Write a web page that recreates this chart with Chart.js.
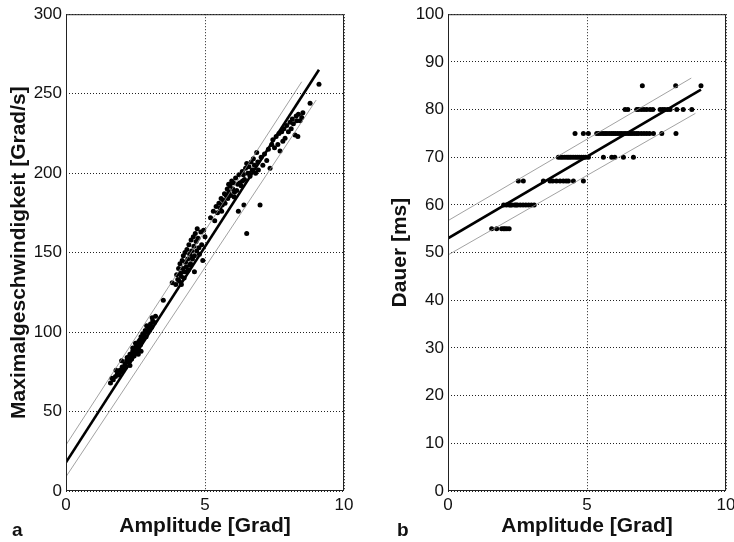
<!DOCTYPE html>
<html>
<head>
<meta charset="utf-8">
<script src="https://cdn.jsdelivr.net/npm/chart.js@4.4.1/dist/chart.umd.min.js"></script>
<style>
  html, body { margin: 0; padding: 0; background: #fff; overflow: hidden; width: 734px; height: 542px; }
  .panel { position: absolute; top: 0; }
  #panelA { left: 0; }
  #panelB { left: 367px; }
  .tag { position: absolute; font: bold 19px 'Liberation Sans', Arial, sans-serif; color: #111; line-height: 22px; }
</style>
</head>
<body>
<div class="panel" id="panelA"><canvas id="chartA" width="367" height="542"></canvas></div>
<div class="panel" id="panelB"><canvas id="chartB" width="380" height="542"></canvas></div>
<span class="tag" style="left:12px; top:519px">a</span>
<span class="tag" style="left:397px; top:519px">b</span>
<script>
'use strict';

/// DATA - panel a (amplitude vs peak velocity)
let ampA = [
  1.60, 1.65, 1.70, 1.78, 1.85, 1.90, 1.94, 2.00, 2.02, 2.08, 2.12, 2.15, 2.18, 2.22, 2.25, 2.28,
  2.30, 2.33, 2.36, 2.40, 2.42, 2.45, 2.48, 2.50, 2.52, 2.55, 2.58, 2.60, 2.62, 2.66, 2.68, 2.70,
  2.72, 2.76, 2.78, 2.82, 2.85, 2.88, 2.92, 2.96, 3.00, 3.04, 3.08, 3.12, 3.18, 3.22, 3.50, 3.82,
  2.00, 2.30, 2.50, 2.70, 2.90, 2.40, 2.60, 3.10, 2.20, 1.80,
  3.95, 3.98, 4.02, 4.05, 4.08, 4.10, 4.12, 4.15, 4.18, 4.20, 4.22, 4.25, 4.28, 4.30, 4.32, 4.35,
  4.38, 4.40, 4.42, 4.45, 4.48, 4.50, 4.52, 4.55, 4.58, 4.60, 4.62, 4.65, 4.68, 4.70, 4.72, 4.75,
  4.78, 4.80, 4.85, 4.88, 4.92, 4.95, 5.00, 4.15, 4.25, 4.35, 4.45, 4.55, 4.62,
  5.20, 5.30, 5.35, 5.40, 5.45, 5.50, 5.54, 5.58, 5.62, 5.66, 5.70, 5.72, 5.76, 5.80, 5.82, 5.86,
  5.90, 5.92, 5.96, 6.00, 6.02, 6.06, 6.10, 6.14, 6.18, 6.20, 6.22, 6.26, 6.30, 6.34, 6.38, 6.40,
  6.42, 6.46, 6.50, 6.50, 6.54, 6.58, 6.62, 6.66, 6.70, 6.74, 6.78, 6.82, 6.86, 6.90, 6.92, 6.98,
  7.02, 7.08, 7.14, 7.22, 7.28, 7.34, 7.40, 5.60, 5.85, 6.05, 6.35, 6.60,
  7.44, 7.50, 7.56, 7.62, 7.66, 7.70, 7.76, 7.80, 7.84, 7.88, 7.94, 8.00, 8.06, 8.10, 8.14, 8.18,
  8.24, 8.28, 8.30, 8.34, 8.36, 8.42, 8.48, 8.52, 8.78, 9.10
];
let velA = [
  68, 71, 70, 72, 74, 73, 76, 75, 78, 77, 80, 78, 82, 81, 84, 82,
  86, 84, 83, 88, 86, 85, 89, 87, 91, 88, 92, 90, 94, 95, 92, 97,
  94, 99, 96, 98, 101, 97, 100, 103, 101, 105, 103, 107, 106, 110, 120, 131,
  82, 79, 93, 88, 104, 90, 86, 109, 84, 76,
  130, 136, 133, 140, 132, 143, 137, 135, 145, 140, 148, 138, 150, 144, 141, 152,
  146, 139, 155, 149, 143, 158, 151, 146, 160, 154, 148, 162, 157, 151, 165, 159,
  153, 149, 163, 155, 145, 164, 160, 130, 134, 138, 142, 147, 138,
  172, 176, 170, 179, 175, 181, 178, 184, 180, 183, 187, 181, 186, 190, 184, 188,
  192, 186, 195, 190, 194, 188, 197, 189, 193, 176, 199, 194, 192, 201, 199, 180,
  196, 203, 162, 206, 200, 204, 198, 207, 202, 209, 205, 200, 213, 207, 202, 180,
  210, 205, 212, 208, 215, 203, 218, 176, 193, 185, 195, 200,
  221, 216, 223, 218, 225, 214, 226, 220, 228, 222, 230, 226, 232, 228, 234, 231,
  224, 236, 233, 223, 237, 233, 235, 238, 244, 256
];
// regression line + confidence lines (end points)
let fitAx = [0, 9.1];
let fitAy = [18, 265];
let upperAx = [0, 8.48];
let upperAy = [29, 257.5];
let lowerAx = [0, 9.0];
let lowerAy = [9, 246];

/// DATA - panel b (amplitude vs duration)
let ampB = [
  1.57, 1.75, 1.93, 2.00, 2.05, 2.12, 2.20,
  2.00, 2.10, 2.20, 2.25, 2.30, 2.40, 2.45, 2.50, 2.60, 2.70, 2.80, 2.90, 3.00, 3.10,
  2.53, 2.71, 3.43, 3.67, 3.77, 3.90, 4.03, 4.15, 4.25, 4.33, 4.51, 4.87,
  3.97, 4.05, 4.12, 4.20, 4.28, 4.35, 4.42, 4.50, 4.58, 4.65, 4.72, 4.80, 4.88, 4.95, 5.05,
  5.59, 5.89, 6.00, 6.31, 6.67,
  4.57, 4.87, 5.05, 5.35, 5.42, 5.50, 5.58, 5.65, 5.72, 5.80, 5.88, 5.95, 6.02, 6.10, 6.18, 6.25,
  6.33, 6.40, 6.48, 6.55, 6.62, 6.70, 6.78, 6.85, 6.95, 7.05, 7.15, 7.25, 7.39, 7.69, 8.20,
  6.37, 6.47, 6.79, 6.85, 6.95, 7.05, 7.15, 7.27, 7.37, 7.63, 7.72, 7.80, 7.90, 7.99, 8.23, 8.46, 8.77,
  6.99, 8.19, 9.10
];
let durB = [
  55, 55, 55, 55, 55, 55, 55,
  60, 60, 60, 60, 60, 60, 60, 60, 60, 60, 60, 60, 60, 60,
  65, 65, 65, 65, 65, 65, 65, 65, 65, 65, 65, 65,
  70, 70, 70, 70, 70, 70, 70, 70, 70, 70, 70, 70, 70, 70, 70,
  70, 70, 70, 70, 70,
  75, 75, 75, 75, 75, 75, 75, 75, 75, 75, 75, 75, 75, 75, 75, 75,
  75, 75, 75, 75, 75, 75, 75, 75, 75, 75, 75, 75, 75, 75, 75,
  80, 80, 80, 80, 80, 80, 80, 80, 80, 80, 80, 80, 80, 80, 80, 80, 80,
  85, 85, 85
];
let fitBx = [0, 9.1];
let fitBy = [53, 84.2];
let upperBx = [0, 8.75];
let upperBy = [56.7, 86.6];
let lowerBx = [0, 8.9];
let lowerBy = [49.5, 79.2];

/// HELPERS
const FONT = "'Liberation Sans', Arial, Helvetica, sans-serif";

function toPoints(xs, ys) {
  let pts = [];
  for (let i = 0; i < xs.length; i++) {
    pts.push({ x: xs[i], y: ys[i] });
  }
  return pts;
}

function lineSet(xs, ys, color, width) {
  return {
    data: toPoints(xs, ys),
    showLine: true,
    borderColor: color,
    borderWidth: width,
    pointRadius: 0,
    fill: false,
  };
}

// box round the plot area, MATLAB style
const boxPlugin = {
  id: 'box',
  afterDraw(chart) {
    let a = chart.chartArea;
    let ctx = chart.ctx;
    ctx.save();
    ctx.strokeStyle = '#222';
    ctx.lineWidth = 1;
    ctx.strokeRect(a.left + 0.5, a.top + 0.5, a.right - a.left - 1, a.bottom - a.top - 1);
    ctx.restore();
  },
};

function makeChart(canvasId, opts) {
  let ctx = document.getElementById(canvasId).getContext('2d');
  return new Chart(ctx, {
    type: 'scatter',
    data: {
      datasets: [
        lineSet(opts.upperX, opts.upperY, '#8a8a8a', 0.8),
        lineSet(opts.lowerX, opts.lowerY, '#8a8a8a', 0.8),
        {
          data: toPoints(opts.xs, opts.ys),
          showLine: false,
          pointRadius: 2.5,
          pointBackgroundColor: '#000',
          pointBorderWidth: 0,
        },
        lineSet(opts.fitX, opts.fitY, '#000', 2.6),
      ],
    },
    options: {
      responsive: false,
      animation: false,
      devicePixelRatio: 1,
      layout: { padding: { top: 14, right: opts.padRight, bottom: 0, left: 0 } },
      plugins: { legend: { display: false }, tooltip: { enabled: false } },
      scales: {
        x: {
          type: 'linear',
          min: 0,
          max: 10,
          afterFit: (s) => { s.height = 51; },
          ticks: { stepSize: 5, autoSkip: false, maxRotation: 0, padding: 4, color: '#111', font: { family: FONT, size: 17 } },
          grid: { color: '#222', lineWidth: 1, drawTicks: false },
          border: { display: false, dash: [1, 2] },
          title: { display: true, text: 'Amplitude [Grad]', color: '#111', font: { family: FONT, size: 21, weight: 'bold' }, padding: { top: 0, bottom: 3 } },
        },
        y: {
          type: 'linear',
          min: 0,
          max: opts.yMax,
          afterFit: (s) => { s.width = opts.yWidth; },
          ticks: { stepSize: opts.yStep, autoSkip: false, padding: 4, color: '#111', font: { family: FONT, size: 17 } },
          grid: { color: '#222', lineWidth: 1, drawTicks: false },
          border: { display: false, dash: [1, 2] },
          title: { display: true, text: opts.yTitle, color: '#111', font: { family: FONT, size: 21, weight: 'bold' }, padding: { top: opts.titlePad, bottom: 0 } },
        },
      },
    },
    plugins: [boxPlugin],
  });
}

/// EXECUTABLE CODE
makeChart('chartA', {
  xs: ampA, ys: velA,
  fitX: fitAx, fitY: fitAy, upperX: upperAx, upperY: upperAy, lowerX: lowerAx, lowerY: lowerAy,
  yMax: 300, yStep: 50, yTitle: 'Maximalgeschwindigkeit [Grad/s]',
  yWidth: 66, padRight: 23, titlePad: 7,
});

makeChart('chartB', {
  xs: ampB, ys: durB,
  fitX: fitBx, fitY: fitBy, upperX: upperBx, upperY: upperBy, lowerX: lowerBx, lowerY: lowerBy,
  yMax: 100, yStep: 10, yTitle: 'Dauer [ms]',
  yWidth: 81, padRight: 21, titlePad: 21,
});
</script>
</body>
</html>
